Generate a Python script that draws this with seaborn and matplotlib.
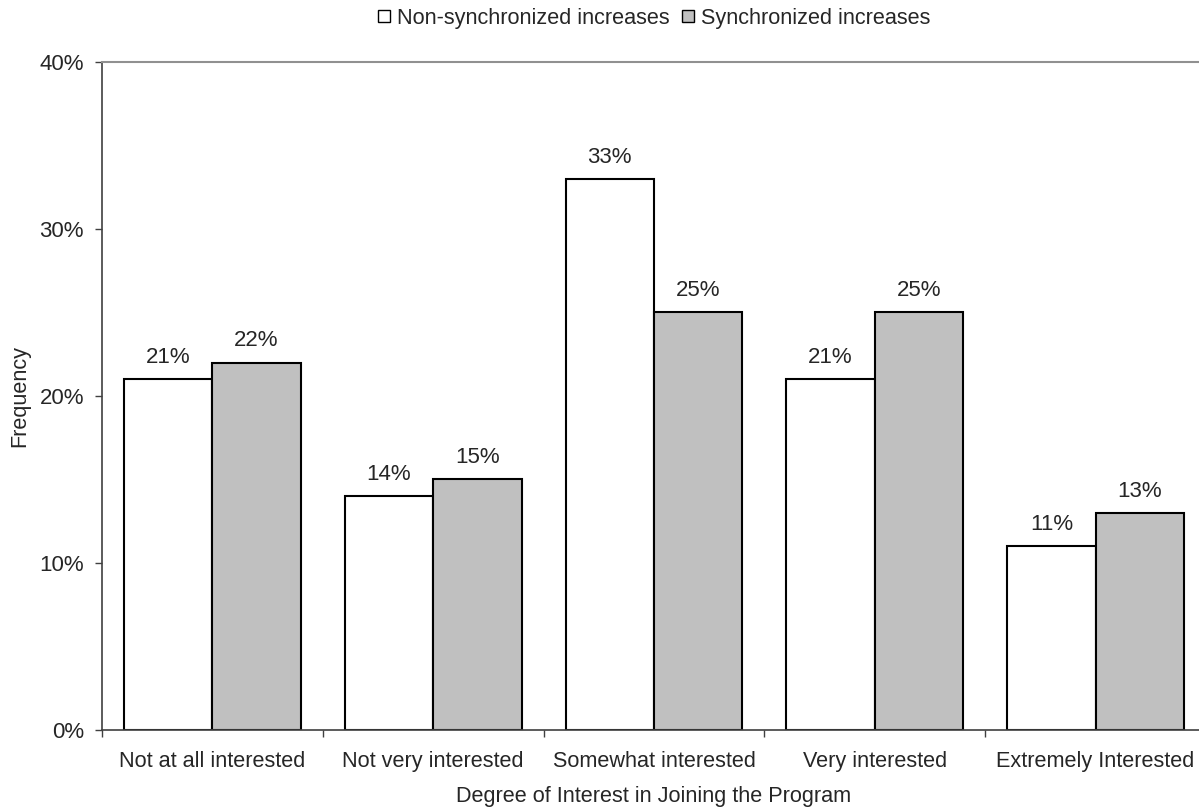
import matplotlib
matplotlib.use("Agg")
import matplotlib.pyplot as plt
import seaborn as sns
import pandas as pd
from matplotlib.lines import Line2D
from matplotlib.ticker import FuncFormatter

# Chart data
categories = ["Not at all interested", "Not very interested", "Somewhat interested",
              "Very interested", "Extremely Interested"]
non_sync = [21, 14, 33, 21, 11]
sync = [22, 15, 25, 25, 13]
series_names = ["Non-synchronized increases", "Synchronized increases"]
colors = ["white", "#C0C0C0"]

df = pd.DataFrame({
    "Interest": categories * 2,
    "Series": [series_names[0]] * len(categories) + [series_names[1]] * len(categories),
    "Value": non_sync + sync,
})

sns.set_style("white")
plt.rcParams["font.family"] = ["Liberation Sans", "DejaVu Sans"]
fs = 15.6

fig = plt.figure(figsize=(11.99, 8.09), dpi=100)
ax = fig.add_axes([0.0851, 0.0977, 0.9207, 0.8257])

sns.barplot(data=df, x="Interest", y="Value", hue="Series", order=categories,
            hue_order=series_names, palette=colors,
            edgecolor="black", linewidth=1.5, width=0.8, ax=ax, legend=False)

# value labels
for cont in ax.containers:
    ax.bar_label(cont, labels=[f"{v:.0f}%" for v in cont.datavalues],
                 padding=8, fontsize=16)

ax.set_ylim(0, 40)
ax.set_xlim(-0.5, len(categories) - 0.5)
ax.set_yticks([0, 10, 20, 30, 40])
ax.yaxis.set_major_formatter(FuncFormatter(lambda v, p: f"{v:.0f}%"))
ax.tick_params(axis="y", labelsize=16, length=5, width=1, color="#404040",
               left=True, direction="out", pad=8)

# category ticks between groups, labels centred
ax.set_xticks([i - 0.5 for i in range(len(categories) + 1)])
ax.set_xticklabels([])
ax.set_xticks(range(len(categories)), minor=True)
ax.set_xticklabels(categories, minor=True, fontsize=fs)
ax.tick_params(axis="x", which="major", length=5, width=1, color="#404040",
               bottom=True, direction="out")
ax.tick_params(axis="x", which="minor", length=0, pad=15)

ax.set_xlabel("Degree of Interest in Joining the Program", fontsize=fs, labelpad=10.5)
ax.set_ylabel("Frequency", fontsize=fs, labelpad=6.5)

for side in ["left", "bottom"]:
    ax.spines[side].set_color("#404040")
    ax.spines[side].set_linewidth(1.2)
ax.spines["top"].set_color("#909090")
ax.spines["top"].set_linewidth(1.5)
ax.spines["right"].set_visible(False)

# square legend markers
handles = [Line2D([], [], marker="s", linestyle="none", markersize=9,
                  markerfacecolor=c, markeredgecolor="black", markeredgewidth=1.0)
           for c in colors]
ax.legend(handles, series_names, loc="center", bbox_to_anchor=(0.5, 1.065),
          ncol=2, frameon=False, fontsize=fs, handlelength=0.6,
          handletextpad=0.3, columnspacing=0.55)

fig.savefig("out.png", dpi=100)
